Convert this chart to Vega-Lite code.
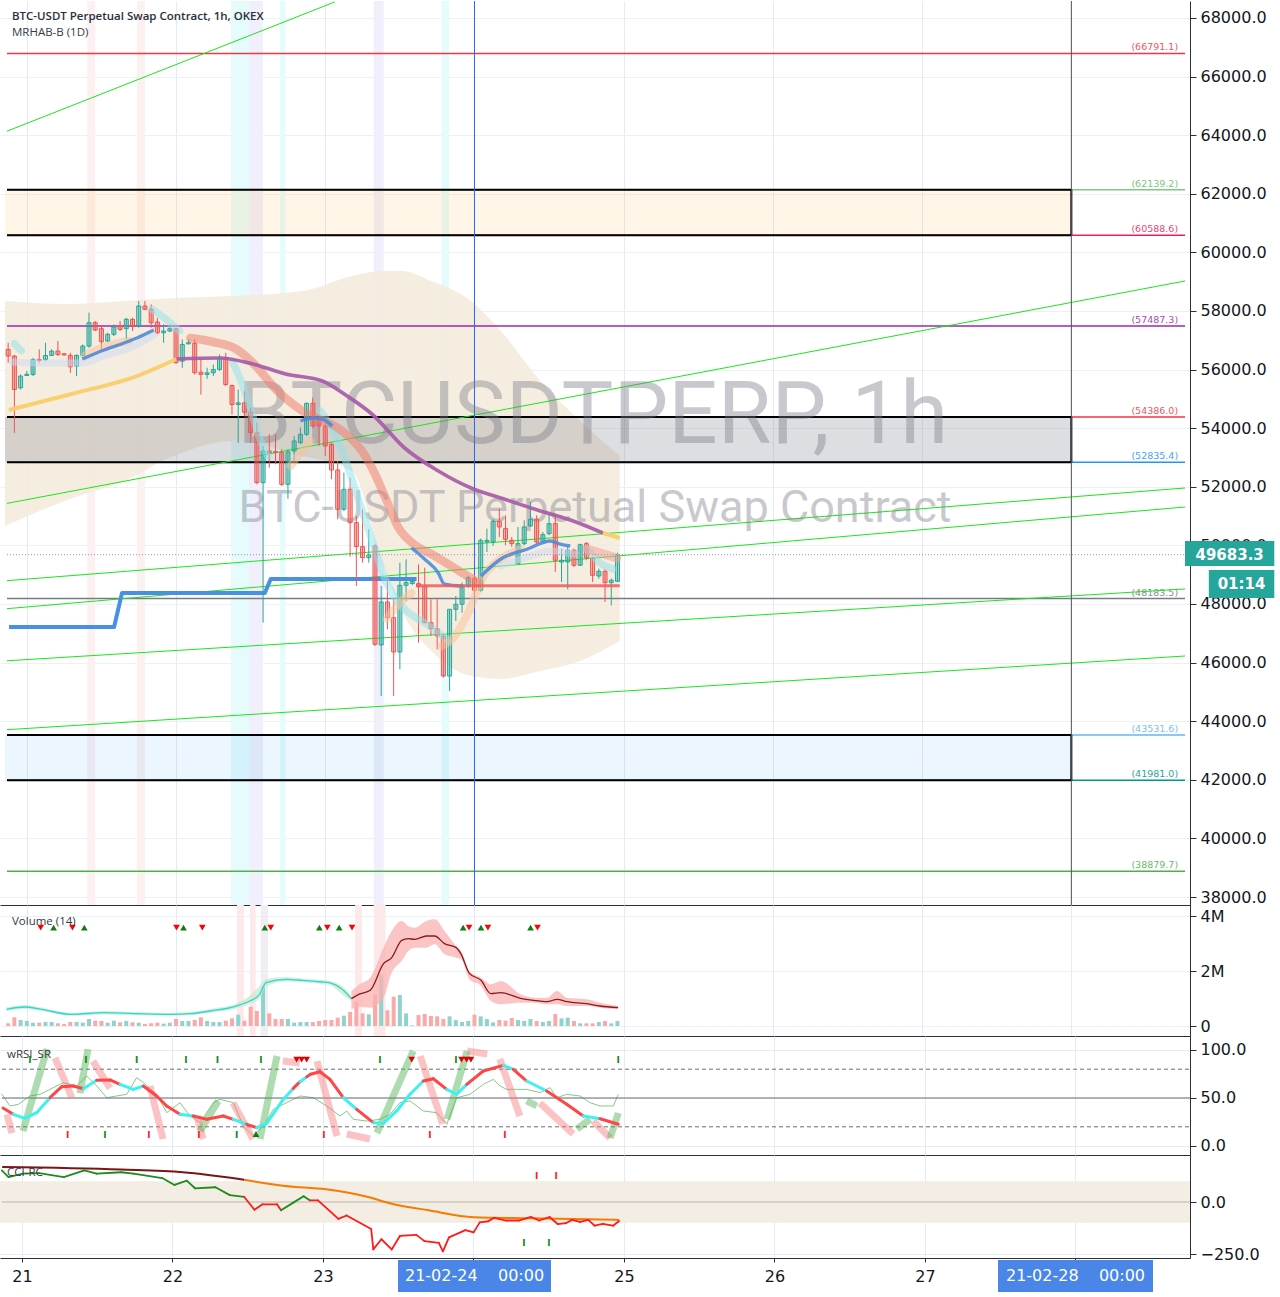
{
"$schema":"https://vega.github.io/schema/vega-lite/v6.json",
"background":"white",
"padding":0,
"autosize":{"type":"pad"},
"spacing":0,
"bounds":"flush",
"config":{"view":{"stroke":null},"axis":{"labelFont":"DejaVu Sans","labelFontSize":16,"labelColor":"#131722","title":null,"zindex":1}},
"datasets":{
"c":[
{"h":-3,"o":56689,"hi":56917,"lo":56233,"c":56461,"v":97000,"d":"dn"},
{"h":-2,"o":56461,"hi":56500,"lo":53839,"c":55321,"v":315000,"d":"dn"},
{"h":-1,"o":55378,"hi":55840,"lo":55320,"c":55777,"v":218000,"d":"up"},
{"h":0,"o":55800,"hi":55950,"lo":55780,"c":55840,"v":182000,"d":"up"},
{"h":1,"o":55834,"hi":56400,"lo":55777,"c":56347,"v":121000,"d":"up"},
{"h":2,"o":56347,"hi":56689,"lo":56233,"c":56310,"v":121000,"d":"dn"},
{"h":3,"o":56347,"hi":56917,"lo":56290,"c":56484,"v":145000,"d":"up"},
{"h":4,"o":56484,"hi":56690,"lo":56461,"c":56632,"v":145000,"d":"up"},
{"h":5,"o":56632,"hi":56974,"lo":56461,"c":56518,"v":97000,"d":"dn"},
{"h":6,"o":56540,"hi":56560,"lo":56480,"c":56500,"v":73000,"d":"dn"},
{"h":7,"o":56484,"hi":56575,"lo":55891,"c":56096,"v":145000,"d":"dn"},
{"h":8,"o":56120,"hi":56518,"lo":55777,"c":56484,"v":145000,"d":"up"},
{"h":9,"o":56484,"hi":56860,"lo":56461,"c":56803,"v":121000,"d":"up"},
{"h":10,"o":56803,"hi":57943,"lo":56746,"c":57601,"v":255000,"d":"up"},
{"h":11,"o":57601,"hi":57658,"lo":57316,"c":57350,"v":194000,"d":"dn"},
{"h":12,"o":57396,"hi":57487,"lo":56632,"c":56951,"v":182000,"d":"dn"},
{"h":13,"o":56974,"hi":57259,"lo":56940,"c":57202,"v":121000,"d":"up"},
{"h":14,"o":57202,"hi":57544,"lo":57145,"c":57453,"v":194000,"d":"up"},
{"h":15,"o":57487,"hi":57658,"lo":57316,"c":57373,"v":133000,"d":"dn"},
{"h":16,"o":57396,"hi":57772,"lo":57031,"c":57715,"v":182000,"d":"up"},
{"h":17,"o":57715,"hi":57772,"lo":57316,"c":57487,"v":133000,"d":"dn"},
{"h":18,"o":57487,"hi":58342,"lo":57430,"c":58171,"v":121000,"d":"up"},
{"h":19,"o":58171,"hi":58342,"lo":58034,"c":58057,"v":73000,"d":"dn"},
{"h":20,"o":58057,"hi":58228,"lo":57430,"c":57601,"v":97000,"d":"dn"},
{"h":21,"o":57624,"hi":57772,"lo":57202,"c":57259,"v":121000,"d":"dn"},
{"h":22,"o":57259,"hi":57544,"lo":56917,"c":57316,"v":85000,"d":"up"},
{"h":23,"o":57316,"hi":57544,"lo":57282,"c":57396,"v":121000,"d":"up"},
{"h":24,"o":57396,"hi":57430,"lo":56210,"c":56233,"v":255000,"d":"dn"},
{"h":25,"o":56290,"hi":57031,"lo":56062,"c":56860,"v":182000,"d":"up"},
{"h":26,"o":56880,"hi":57031,"lo":56860,"c":56917,"v":182000,"d":"up"},
{"h":27,"o":56894,"hi":57031,"lo":55834,"c":55891,"v":218000,"d":"dn"},
{"h":28,"o":55914,"hi":56347,"lo":55150,"c":55834,"v":315000,"d":"dn"},
{"h":29,"o":55834,"hi":56062,"lo":55686,"c":55891,"v":182000,"d":"up"},
{"h":30,"o":55891,"hi":56176,"lo":55777,"c":56005,"v":145000,"d":"up"},
{"h":31,"o":56005,"hi":56518,"lo":55948,"c":56404,"v":145000,"d":"up"},
{"h":32,"o":56404,"hi":56575,"lo":55435,"c":55492,"v":194000,"d":"dn"},
{"h":33,"o":55458,"hi":55492,"lo":54466,"c":54808,"v":279000,"d":"dn"},
{"h":34,"o":54808,"hi":55321,"lo":53497,"c":54865,"v":412000,"d":"up"},
{"h":35,"o":54865,"hi":55264,"lo":54409,"c":54546,"v":194000,"d":"dn"},
{"h":36,"o":54554,"hi":54702,"lo":53507,"c":53848,"v":703000,"d":"dn"},
{"h":37,"o":53848,"hi":54190,"lo":52085,"c":52142,"v":545000,"d":"dn"},
{"h":38,"o":52142,"hi":53393,"lo":47364,"c":53223,"v":1455000,"d":"up"},
{"h":39,"o":53223,"hi":53791,"lo":52654,"c":53166,"v":461000,"d":"dn"},
{"h":40,"o":53200,"hi":53791,"lo":52768,"c":53166,"v":255000,"d":"dn"},
{"h":41,"o":53166,"hi":53280,"lo":52028,"c":52085,"v":255000,"d":"dn"},
{"h":42,"o":52085,"hi":53280,"lo":51596,"c":53189,"v":255000,"d":"up"},
{"h":43,"o":53223,"hi":53735,"lo":52881,"c":53564,"v":121000,"d":"up"},
{"h":44,"o":53507,"hi":54019,"lo":53450,"c":53791,"v":145000,"d":"up"},
{"h":45,"o":53791,"hi":54872,"lo":53735,"c":54850,"v":145000,"d":"up"},
{"h":46,"o":54850,"hi":55043,"lo":54019,"c":54076,"v":145000,"d":"dn"},
{"h":47,"o":54303,"hi":54417,"lo":53393,"c":54076,"v":182000,"d":"dn"},
{"h":48,"o":54076,"hi":54190,"lo":53052,"c":53393,"v":218000,"d":"dn"},
{"h":49,"o":53450,"hi":53507,"lo":52256,"c":52574,"v":218000,"d":"dn"},
{"h":50,"o":52574,"hi":52881,"lo":50891,"c":51232,"v":303000,"d":"dn"},
{"h":51,"o":51232,"hi":52483,"lo":51175,"c":51914,"v":376000,"d":"up"},
{"h":52,"o":51914,"hi":52313,"lo":49616,"c":50777,"v":509000,"d":"dn"},
{"h":53,"o":50777,"hi":51004,"lo":48615,"c":49958,"v":885000,"d":"dn"},
{"h":54,"o":49958,"hi":51232,"lo":49412,"c":49582,"v":461000,"d":"dn"},
{"h":55,"o":49582,"hi":50549,"lo":49412,"c":49673,"v":424000,"d":"up"},
{"h":56,"o":49980,"hi":50037,"lo":46567,"c":46624,"v":1152000,"d":"dn"},
{"h":57,"o":46601,"hi":48615,"lo":44861,"c":48069,"v":1855000,"d":"up"},
{"h":58,"o":48069,"hi":48899,"lo":47136,"c":47534,"v":570000,"d":"dn"},
{"h":59,"o":47534,"hi":48217,"lo":44861,"c":46362,"v":1067000,"d":"dn"},
{"h":60,"o":46362,"hi":49412,"lo":45771,"c":48638,"v":1127000,"d":"up"},
{"h":61,"o":48638,"hi":49525,"lo":48103,"c":48729,"v":461000,"d":"up"},
{"h":62,"o":48700,"hi":48820,"lo":48650,"c":48770,"v":24000,"d":"up"},
{"h":63,"o":48695,"hi":49355,"lo":46681,"c":48592,"v":400000,"d":"dn"},
{"h":64,"o":48592,"hi":49241,"lo":47341,"c":47364,"v":436000,"d":"dn"},
{"h":65,"o":47364,"hi":48160,"lo":46908,"c":47159,"v":364000,"d":"dn"},
{"h":66,"o":47159,"hi":48160,"lo":46453,"c":46908,"v":352000,"d":"dn"},
{"h":67,"o":46908,"hi":46965,"lo":45487,"c":45543,"v":255000,"d":"dn"},
{"h":68,"o":45543,"hi":47830,"lo":45031,"c":47819,"v":352000,"d":"up"},
{"h":69,"o":47819,"hi":48274,"lo":47421,"c":47990,"v":218000,"d":"up"},
{"h":70,"o":47990,"hi":48729,"lo":47705,"c":48615,"v":145000,"d":"up"},
{"h":71,"o":48615,"hi":48957,"lo":48558,"c":48900,"v":182000,"d":"up"},
{"h":72,"o":48866,"hi":48979,"lo":48240,"c":48467,"v":412000,"d":"dn"},
{"h":73,"o":48467,"hi":50231,"lo":48411,"c":50174,"v":352000,"d":"up"},
{"h":74,"o":50117,"hi":50572,"lo":49776,"c":50174,"v":255000,"d":"up"},
{"h":75,"o":50117,"hi":50891,"lo":49981,"c":50822,"v":133000,"d":"up"},
{"h":76,"o":50822,"hi":51255,"lo":50288,"c":50629,"v":218000,"d":"dn"},
{"h":77,"o":50572,"hi":51027,"lo":50003,"c":50208,"v":194000,"d":"dn"},
{"h":78,"o":50174,"hi":50288,"lo":49947,"c":50060,"v":291000,"d":"dn"},
{"h":79,"o":49378,"hi":50629,"lo":49378,"c":50060,"v":218000,"d":"up"},
{"h":80,"o":50060,"hi":50857,"lo":50003,"c":50629,"v":182000,"d":"up"},
{"h":81,"o":50663,"hi":51482,"lo":50629,"c":50891,"v":255000,"d":"up"},
{"h":82,"o":50891,"hi":51027,"lo":50060,"c":50117,"v":182000,"d":"dn"},
{"h":83,"o":50140,"hi":50458,"lo":50094,"c":50367,"v":145000,"d":"up"},
{"h":84,"o":50401,"hi":51084,"lo":50345,"c":50743,"v":182000,"d":"up"},
{"h":85,"o":50743,"hi":51084,"lo":49093,"c":49491,"v":436000,"d":"dn"},
{"h":86,"o":49434,"hi":49890,"lo":48752,"c":49491,"v":279000,"d":"up"},
{"h":87,"o":49434,"hi":49947,"lo":48502,"c":49833,"v":303000,"d":"up"},
{"h":88,"o":49833,"hi":49890,"lo":49264,"c":49321,"v":182000,"d":"dn"},
{"h":89,"o":49321,"hi":50060,"lo":49298,"c":50026,"v":97000,"d":"up"},
{"h":90,"o":50060,"hi":50117,"lo":49491,"c":49571,"v":97000,"d":"dn"},
{"h":91,"o":49571,"hi":49605,"lo":48752,"c":48979,"v":97000,"d":"dn"},
{"h":92,"o":48957,"hi":49207,"lo":48866,"c":49116,"v":145000,"d":"up"},
{"h":93,"o":49116,"hi":49184,"lo":48069,"c":48729,"v":182000,"d":"dn"},
{"h":94,"o":48729,"hi":48866,"lo":47955,"c":48809,"v":97000,"d":"up"},
{"h":95,"o":48775,"hi":49753,"lo":48752,"c":49683,"v":182000,"d":"up"}
],
"vb":[
{"h":9.73,"h2":11.0,"k":"pk","p":"m"},{"h":17.7,"h2":19.0,"k":"pk","p":"m"},{"h":32.85,"h2":35.73,"k":"cy","p":"m"},{"h":35.73,"h2":37.96,"k":"lv","p":"m"},{"h":40.7,"h2":41.6,"k":"cy","p":"m"},{"h":55.8,"h2":57.4,"k":"lv","p":"m"},{"h":66.7,"h2":67.9,"k":"cy","p":"m"},
{"h":33.8,"h2":34.9,"k":"pk","p":"v"},{"h":35.9,"h2":36.8,"k":"pk","p":"v"},{"h":37.6,"h2":38.8,"k":"lv","p":"v"},{"h":52.8,"h2":53.9,"k":"pk","p":"v"},{"h":55.8,"h2":57.7,"k":"pk","p":"v"}
],
"cl":[
{"h":-3.509,"hi":58341,"lo":50662},{"h":6.06,"hi":58239,"lo":51516},{"h":15.63,"hi":58341,"lo":52198},{"h":23.6,"hi":58444,"lo":53051},{"h":33.17,"hi":58512,"lo":53563},{"h":44.34,"hi":58683,"lo":53051},{"h":52.31,"hi":59194,"lo":52539},{"h":57.1,"hi":59365,"lo":49467},{"h":60.29,"hi":59365,"lo":47761},{"h":65.07,"hi":59024,"lo":46396},{"h":71.45,"hi":58341,"lo":45543},{"h":76.24,"hi":57317,"lo":45440},{"h":82.62,"hi":55611,"lo":45713},{"h":89.0,"hi":54246,"lo":46054},{"h":95.37,"hi":53051,"lo":46737}
],
"lv":[
{"p":66791.1,"lab":"(66791.1)","k":"r","h0":-3.19,"h1":186.28},{"p":62139.2,"lab":"(62139.2)","k":"lg","h0":-3.19,"h1":186.28},{"p":60588.6,"lab":"(60588.6)","k":"cr","h0":-3.19,"h1":186.28},{"p":57487.3,"lab":"(57487.3)","k":"pu","h0":-3.19,"h1":186.28},{"p":54386.0,"lab":"(54386.0)","k":"r","h0":-3.19,"h1":186.28},{"p":52835.4,"lab":"(52835.4)","k":"b","h0":-3.19,"h1":186.28},{"p":48183.5,"lab":"(48183.5)","k":"g","h0":-3.19,"h1":186.28},{"p":43531.6,"lab":"(43531.6)","k":"lb","h0":-3.19,"h1":186.28},{"p":41981.0,"lab":"(41981.0)","k":"t","h0":-3.19,"h1":186.28},{"p":38879.7,"lab":"(38879.7)","k":"gr","h0":-3.19,"h1":186.28}
],
"bx":[
{"h":-3.509,"hb":-3.19,"h2":168,"p1":60588.6,"p2":62139.2,"k":"o"},{"h":-3.509,"hb":-3.19,"h2":168,"p1":52835.4,"p2":54386.0,"k":"g"},{"h":-3.509,"hb":-3.19,"h2":168,"p1":41981.0,"p2":43531.6,"k":"b"}
],
"tl":[
{"h":-3.19,"p":64136,"k":"A"},{"h":49.52,"p":68546,"k":"A"},
{"h":-3.19,"p":51434,"k":"B"},{"h":186.28,"p":59024,"k":"B"},
{"h":-3.19,"p":48796,"k":"C"},{"h":186.28,"p":51959,"k":"C"},
{"h":-3.19,"p":47840,"k":"D"},{"h":186.28,"p":51310,"k":"D"},
{"h":-3.19,"p":46062,"k":"E"},{"h":186.28,"p":48512,"k":"E"},
{"h":-3.19,"p":43710,"k":"F"},{"h":186.28,"p":46225,"k":"F"}
],
"vr":[{"h":72,"k":"b"},{"h":168,"k":"g"}],
"cp":[{"h0":-3.19,"h1":186.28,"p":49683.3}],
"wm":[{"h":91.0,"p":53495,"t":"BTCUSDTPERP, 1h","k":"a"},{"h":91.4,"p":50798,"t":"BTC-USDT Perpetual Swap Contract","k":"b"}],
"st":[{"h":-2.87,"p":47214},{"h":14.04,"p":47214},{"h":15.31,"p":48375},{"h":38.28,"p":48375},{"h":39.23,"p":48853},{"h":62.68,"p":48853}],
"bd":[
{"h":-2.31,"p":56260,"s":"lb1","k":"lb"},{"h":2.87,"p":56225,"s":"lb1","k":"lb"},{"h":8.93,"p":56225,"s":"lb1","k":"lb"},{"h":12.44,"p":56464,"s":"lb1","k":"lb"},{"h":17.7,"p":56840,"s":"lb1","k":"lb"},{"h":20.41,"p":57181,"s":"lb1","k":"lb"},
{"h":76.24,"p":49297,"s":"lb4","k":"lb"},{"h":80.54,"p":49604,"s":"lb4","k":"lb"},{"h":84.21,"p":49809,"s":"lb4","k":"lb"},{"h":88.2,"p":49707,"s":"lb4","k":"lb"},
{"h":-2.0,"p":56880,"s":"c1","k":"cy"},{"h":-0.9,"p":56650,"s":"c1","k":"cy"},
{"h":20.1,"p":58068,"s":"c2","k":"cy"},{"h":22.33,"p":57727,"s":"c2","k":"cy"},{"h":24.56,"p":57317,"s":"c2","k":"cy"},
{"h":33.17,"p":56225,"s":"c3","k":"cy"},{"h":34.77,"p":55440,"s":"c3","k":"cy"},{"h":36.36,"p":54416,"s":"c3","k":"cy"},{"h":37.64,"p":53563,"s":"c3","k":"cy"},{"h":38.76,"p":53051,"s":"c3","k":"cy"},
{"h":47.21,"p":54587,"s":"c4","k":"cy"},{"h":49.12,"p":53973,"s":"c4","k":"cy"},{"h":51.04,"p":53051,"s":"c4","k":"cy"},{"h":52.63,"p":52027,"s":"c4","k":"cy"},{"h":54.23,"p":51003,"s":"c4","k":"cy"},{"h":55.82,"p":49980,"s":"c4","k":"cy"},{"h":57.42,"p":48955,"s":"c4","k":"cy"},{"h":59.01,"p":48273,"s":"c4","k":"cy"},{"h":61.08,"p":47761,"s":"c4","k":"cy"},{"h":63.48,"p":47420,"s":"c4","k":"cy"},{"h":65.87,"p":47078,"s":"c4","k":"cy"},{"h":67.78,"p":46737,"s":"c4","k":"cy"},
{"h":90.11,"p":49877,"s":"c6","k":"cy"},{"h":92.19,"p":49399,"s":"c6","k":"cy"},{"h":94.26,"p":49194,"s":"c6","k":"cy"},
{"h":9.25,"p":56464,"s":"o1","k":"or"},{"h":11.64,"p":56703,"s":"o1","k":"or"},{"h":14.04,"p":56874,"s":"o1","k":"or"},{"h":16.43,"p":56976,"s":"o1","k":"or"},
{"h":42.42,"p":52710,"s":"o2","k":"or"},{"h":44.02,"p":53153,"s":"o2","k":"or"},{"h":45.61,"p":53563,"s":"o2","k":"or"},
{"h":57.89,"p":47488,"s":"o3","k":"or"},{"h":59.49,"p":47932,"s":"o3","k":"or"},{"h":61.88,"p":48375,"s":"o3","k":"or"},
{"h":66.67,"p":46567,"s":"o4","k":"or"},{"h":68.58,"p":46840,"s":"o4","k":"or"},{"h":70.97,"p":47693,"s":"o4","k":"or"},{"h":73.52,"p":48955,"s":"o4","k":"or"},{"h":76.24,"p":49536,"s":"o4","k":"or"},{"h":79.43,"p":49877,"s":"o4","k":"or"},
{"h":26.32,"p":57078,"s":"rd","k":"rd"},{"h":29.98,"p":56942,"s":"rd","k":"rd"},{"h":33.65,"p":56703,"s":"rd","k":"rd"},{"h":37.16,"p":56055,"s":"rd","k":"rd"},{"h":39.55,"p":55440,"s":"rd","k":"rd"},{"h":44.34,"p":54587,"s":"rd","k":"rd"},{"h":50.72,"p":53904,"s":"rd","k":"rd"},{"h":53.91,"p":53222,"s":"rd","k":"rd"},{"h":55.98,"p":52437,"s":"rd","k":"rd"},{"h":57.89,"p":51516,"s":"rd","k":"rd"},{"h":59.81,"p":50594,"s":"rd","k":"rd"},{"h":62.2,"p":50048,"s":"rd","k":"rd"},{"h":65.07,"p":49707,"s":"rd","k":"rd"},{"h":70.33,"p":49024,"s":"rd","k":"rd"},{"h":72.73,"p":48716,"s":"rd","k":"rd"},
{"h":90.11,"p":49877,"s":"sal","k":"sal"},{"h":94.9,"p":49570,"s":"sal","k":"sal"}
],
"ln":[
{"h":-2.87,"p":54620,"s":"y1","k":"may"},{"h":7.18,"p":55167,"s":"y1","k":"may"},{"h":17.7,"p":55781,"s":"y1","k":"may"},{"h":24.08,"p":56362,"s":"y1","k":"may"},
{"h":24.08,"p":56362,"s":"pu","k":"map"},{"h":31.1,"p":56396,"s":"pu","k":"map"},{"h":36.36,"p":56191,"s":"pu","k":"map"},{"h":41.63,"p":55850,"s":"pu","k":"map"},{"h":47.53,"p":55611,"s":"pu","k":"map"},{"h":51.52,"p":55099,"s":"pu","k":"map"},{"h":55.5,"p":54485,"s":"pu","k":"map"},{"h":60.77,"p":53324,"s":"pu","k":"map"},{"h":66.19,"p":52539,"s":"pu","k":"map"},{"h":71.45,"p":51959,"s":"pu","k":"map"},{"h":76.24,"p":51618,"s":"pu","k":"map"},{"h":82.62,"p":51174,"s":"pu","k":"map"},{"h":87.88,"p":50833,"s":"pu","k":"map"},{"h":92.66,"p":50423,"s":"pu","k":"map"},
{"h":92.66,"p":50423,"s":"y2","k":"may"},{"h":95.37,"p":50252,"s":"y2","k":"may"},
{"h":8.93,"p":56362,"s":"b1","k":"bl"},{"h":12.44,"p":56669,"s":"b1","k":"bl"},{"h":15.63,"p":56908,"s":"b1","k":"bl"},{"h":17.7,"p":57078,"s":"b1","k":"bl"},{"h":20.41,"p":57351,"s":"b1","k":"bl"},
{"h":44.02,"p":54246,"s":"b2","k":"bl"},{"h":45.93,"p":54348,"s":"b2","k":"bl"},{"h":47.53,"p":54314,"s":"b2","k":"bl"},{"h":49.12,"p":54075,"s":"b2","k":"bl"},
{"h":61.88,"p":49911,"s":"b3","k":"bl"},{"h":63.96,"p":49536,"s":"b3","k":"bl"},{"h":66.19,"p":49058,"s":"b3","k":"bl"},{"h":67.15,"p":48682,"s":"b3","k":"bl"},{"h":70.18,"p":48614,"s":"b3","k":"bl"},
{"h":73.05,"p":48955,"s":"b4","k":"bl"},{"h":76.24,"p":49536,"s":"b4","k":"bl"},{"h":80.54,"p":49877,"s":"b4","k":"bl"},{"h":84.21,"p":50150,"s":"b4","k":"bl"},{"h":85.8,"p":50047,"s":"b4","k":"bl"},{"h":87.4,"p":49979,"s":"b4","k":"bl"},
{"h":62.68,"p":48620,"s":"rt","k":"rt"},{"h":95.37,"p":48620,"s":"rt","k":"rt"}
],
"tx":[{"h":-2.39,"p":67915,"t":"BTC-USDT Perpetual Swap Contract, 1h, OKEX","k":"b"},{"h":-2.39,"p":67386,"t":"MRHAB-B (1D)","k":"n"}],
"pb":[{"h":186.28,"h2":200.64,"lo":49297,"hi":50150,"t":"49683.3","hc":193.46,"pc":49683.3},{"h":190.11,"h2":200.64,"lo":48205,"hi":49160,"t":"01:14","hc":195.37,"pc":48682}],
"vm":[
{"h":-3.27,"v":606000,"lo":550000,"hi":680000,"s":"a"},{"h":-0.32,"v":691000,"lo":620000,"hi":760000,"s":"a"},{"h":2.34,"v":606000,"lo":545000,"hi":670000,"s":"a"},{"h":7.13,"v":424000,"lo":370000,"hi":480000,"s":"a"},{"h":12.44,"v":485000,"lo":420000,"hi":550000,"s":"a"},{"h":17.7,"v":448000,"lo":390000,"hi":510000,"s":"a"},{"h":23.08,"v":424000,"lo":370000,"hi":480000,"s":"a"},{"h":26.27,"v":448000,"lo":390000,"hi":510000,"s":"a"},{"h":29.46,"v":545000,"lo":480000,"hi":620000,"s":"a"},{"h":33.7,"v":727000,"lo":640000,"hi":820000,"s":"a"},{"h":35.84,"v":909000,"lo":800000,"hi":1100000,"s":"a"},{"h":37.43,"v":1152000,"lo":1000000,"hi":1450000,"s":"a"},{"h":38.48,"v":1576000,"lo":1450000,"hi":1700000,"s":"a"},{"h":41.67,"v":1697000,"lo":1620000,"hi":1780000,"s":"a"},{"h":44.34,"v":1661000,"lo":1590000,"hi":1730000,"s":"a"},{"h":47.53,"v":1600000,"lo":1530000,"hi":1670000,"s":"a"},{"h":48.6,"v":1576000,"lo":1500000,"hi":1650000,"s":"a"},{"h":50.72,"v":1333000,"lo":1150000,"hi":1450000,"s":"a"},{"h":52.2,"v":994000,"lo":900000,"hi":1100000,"s":"a"},
{"h":52.2,"v":994000,"lo":606000,"hi":1273000,"s":"b"},{"h":53.38,"v":1152000,"lo":700000,"hi":1500000,"s":"b"},{"h":55.23,"v":1297000,"lo":667000,"hi":1758000,"s":"b"},{"h":57.37,"v":2267000,"lo":1030000,"hi":2849000,"s":"b"},{"h":58.69,"v":2485000,"lo":1939000,"hi":3455000,"s":"b"},{"h":60.29,"v":3115000,"lo":2364000,"hi":3818000,"s":"b"},{"h":61.36,"v":3176000,"lo":2727000,"hi":3636000,"s":"b"},{"h":62.41,"v":3152000,"lo":2849000,"hi":3576000,"s":"b"},{"h":64.27,"v":3273000,"lo":2849000,"hi":3818000,"s":"b"},{"h":65.6,"v":3273000,"lo":2970000,"hi":3879000,"s":"b"},{"h":67.19,"v":2994000,"lo":2606000,"hi":3455000,"s":"b"},{"h":69.06,"v":2849000,"lo":2485000,"hi":2909000,"s":"b"},{"h":69.86,"v":2606000,"lo":2424000,"hi":2727000,"s":"b"},{"h":71.18,"v":1915000,"lo":1697000,"hi":2000000,"s":"b"},{"h":73.05,"v":1661000,"lo":1455000,"hi":1758000,"s":"b"},{"h":74.64,"v":1176000,"lo":909000,"hi":1515000,"s":"b"},{"h":76.24,"v":1212000,"lo":788000,"hi":1636000,"s":"b"},{"h":79.43,"v":1006000,"lo":848000,"hi":1152000,"s":"b"},{"h":81.55,"v":933000,"lo":848000,"hi":1030000,"s":"b"},{"h":83.68,"v":885000,"lo":788000,"hi":1030000,"s":"b"},{"h":85.28,"v":970000,"lo":788000,"hi":1273000,"s":"b"},{"h":86.88,"v":885000,"lo":727000,"hi":1030000,"s":"b"},{"h":90.06,"v":812000,"lo":727000,"hi":970000,"s":"b"},{"h":92.19,"v":727000,"lo":667000,"hi":848000,"s":"b"},{"h":95.1,"v":667000,"lo":606000,"hi":727000,"s":"b"}
],
"vt":[
{"h":2.23,"k":"dn"},{"h":4.31,"k":"up"},{"h":7.34,"k":"dn"},{"h":9.25,"k":"up"},{"h":24.08,"k":"dn"},{"h":25.2,"k":"up"},{"h":28.23,"k":"dn"},{"h":38.28,"k":"up"},{"h":39.23,"k":"dn"},{"h":47.05,"k":"up"},{"h":48.33,"k":"dn"},{"h":50.24,"k":"up"},{"h":52.31,"k":"dn"},{"h":70.18,"k":"up"},{"h":71.13,"k":"dn"},{"h":73.05,"k":"up"},{"h":74.16,"k":"dn"},{"h":81.02,"k":"up"},{"h":82.14,"k":"dn"}
],
"rl":[{"v":80,"k":"d","h0":-3.19,"h1":186.28},{"v":20,"k":"d","h0":-3.19,"h1":186.28},{"v":50,"k":"s","h0":-3.19,"h1":186.28}],
"rib":[
{"h":-2.39,"v":33,"h2":-1.6,"v2":13.5,"k":"p"},{"h":0.16,"v":15.6,"h2":3.99,"v2":101,"k":"g"},{"h":5.26,"v":91.7,"h2":7.97,"v2":50,"k":"p"},{"h":9.25,"v":55.2,"h2":10.53,"v2":101,"k":"g"},{"h":11.32,"v":88.5,"h2":14.04,"v2":60.4,"k":"p"},{"h":20.41,"v":62.5,"h2":22.49,"v2":7.3,"k":"p"},{"h":27.9,"v":31,"h2":28.9,"v2":7.3,"k":"p"},{"h":28.4,"v":15.6,"h2":31.3,"v2":46.9,"k":"g"},{"h":33.65,"v":44.8,"h2":36.84,"v2":7.3,"k":"p"},{"h":37.96,"v":7.3,"h2":40.67,"v2":93.75,"k":"g"},{"h":41.6,"v":88.5,"h2":44.3,"v2":86.5,"k":"p"},{"h":47.05,"v":88.5,"h2":50.24,"v2":10.4,"k":"p"},{"h":51.8,"v":12.5,"h2":55.5,"v2":7.3,"k":"p"},{"h":56.6,"v":13.5,"h2":62.4,"v2":99,"k":"g"},{"h":63.5,"v":93.75,"h2":67.1,"v2":23,"k":"p"},{"h":67.8,"v":28,"h2":71.0,"v2":99,"k":"g"},{"h":71.0,"v":99,"h2":74.2,"v2":95.8,"k":"p"},{"h":76.2,"v":90.6,"h2":79.4,"v2":31.25,"k":"p"},{"h":80.5,"v":46.9,"h2":82.1,"v2":41.7,"k":"g"},{"h":82.6,"v":44.8,"h2":87.9,"v2":12.5,"k":"p"},{"h":88.5,"v":17.7,"h2":90.6,"v2":28,"k":"g"},{"h":91.1,"v":26,"h2":93.8,"v2":8.3,"k":"p"},{"h":93.8,"v":8.3,"h2":95.1,"v2":34.4,"k":"g"}
],
"rg":[
{"h":-3.27,"v":54.5},{"h":-1.91,"v":41.7},{"h":-0.58,"v":43.4},{"h":1.28,"v":52.1},{"h":2.87,"v":53.8},{"h":4.47,"v":59.0},{"h":6.59,"v":66.0},{"h":8.72,"v":62.5},{"h":10.32,"v":72.9},{"h":11.91,"v":62.5},{"h":13.51,"v":50.3},{"h":15.1,"v":52.1},{"h":16.7,"v":53.8},{"h":18.29,"v":71.2},{"h":19.35,"v":66.0},{"h":21.48,"v":53.8},{"h":23.08,"v":34.7},{"h":25.2,"v":45.1},{"h":26.79,"v":31.2},{"h":28.39,"v":24.3},{"h":30.51,"v":45.1},{"h":31.58,"v":48.6},{"h":33.7,"v":45.1},{"h":35.29,"v":20.8},{"h":36.89,"v":10.4},{"h":38.48,"v":20.8},{"h":40.08,"v":38.2},{"h":42.22,"v":45.1},{"h":44.34,"v":52.1},{"h":46.46,"v":50.3},{"h":48.6,"v":41.7},{"h":50.72,"v":31.2},{"h":51.79,"v":36.5},{"h":52.84,"v":27.8},{"h":54.98,"v":26.0},{"h":57.1,"v":27.8},{"h":58.69,"v":33.0},{"h":60.29,"v":45.1},{"h":61.88,"v":46.9},{"h":64.0,"v":36.5},{"h":66.14,"v":34.7},{"h":67.74,"v":22.6},{"h":69.33,"v":50.3},{"h":71.45,"v":53.8},{"h":73.57,"v":64.2},{"h":75.17,"v":69.4},{"h":76.24,"v":62.5},{"h":77.3,"v":59.0},{"h":80.49,"v":59.0},{"h":82.62,"v":55.6},{"h":84.21,"v":60.8},{"h":85.28,"v":50.3},{"h":86.87,"v":53.8},{"h":89.0,"v":52.1},{"h":90.59,"v":45.1},{"h":92.19,"v":41.7},{"h":94.31,"v":41.7},{"h":95.1,"v":53.8}
],
"rs":[
{"h":-3.03,"v":39.5,"c":"r"},{"h":-1.39,"v":33.0,"c":"c"},{"h":0.48,"v":28.8,"c":"c"},{"h":2.34,"v":34.7,"c":"c"},{"h":4.47,"v":50.3,"c":"r"},{"h":6.33,"v":61.8,"c":"r"},{"h":8.18,"v":62.5,"c":"r"},{"h":9.78,"v":59.7,"c":"c"},{"h":11.91,"v":68.4,"c":"r"},{"h":14.04,"v":68.75,"c":"r"},{"h":15.63,"v":64.2,"c":"c"},{"h":17.75,"v":59.0,"c":"c"},{"h":19.35,"v":62.5,"c":"r"},{"h":21.48,"v":52.1,"c":"r"},{"h":23.08,"v":41.7,"c":"r"},{"h":25.2,"v":33.0,"c":"c"},{"h":27.32,"v":31.25,"c":"r"},{"h":29.46,"v":27.8,"c":"r"},{"h":32.1,"v":31.25,"c":"r"},{"h":33.7,"v":27.8,"c":"c"},{"h":35.84,"v":22.6,"c":"r"},{"h":37.43,"v":19.1,"c":"c"},{"h":39.03,"v":23.6,"c":"c"},{"h":41.67,"v":48.6,"c":"c"},{"h":43.27,"v":60,"c":"r"},{"h":44.34,"v":67,"c":"c"},{"h":45.41,"v":72,"c":"r"},{"h":46.0,"v":74.7,"c":"r"},{"h":47.53,"v":77.4,"c":"r"},{"h":49.12,"v":69.4,"c":"r"},{"h":51.24,"v":50.3,"c":"c"},{"h":53.38,"v":38.2,"c":"r"},{"h":56.03,"v":24.3,"c":"c"},{"h":57.62,"v":23.6,"c":"c"},{"h":59.76,"v":36.5,"c":"c"},{"h":61.88,"v":53.9,"c":"c"},{"h":64.0,"v":67.7,"c":"r"},{"h":65.6,"v":70.1,"c":"r"},{"h":67.74,"v":59.0,"c":"c"},{"h":69.33,"v":53.9,"c":"c"},{"h":70.93,"v":64.2,"c":"r"},{"h":73.57,"v":78.1,"c":"r"},{"h":76.76,"v":84.0,"c":"c"},{"h":78.36,"v":79.9,"c":"r"},{"h":80.49,"v":67.7,"c":"c"},{"h":83.68,"v":57.3,"c":"r"},{"h":86.87,"v":43.4,"c":"r"},{"h":89.52,"v":31.25,"c":"c"},{"h":92.19,"v":28.4,"c":"r"},{"h":95.1,"v":22.6,"c":"c"}
],
"rm":[
{"h":1.28,"v":89.6,"k":"g"},{"h":10.21,"v":89.6,"k":"g"},{"h":18.29,"v":89.6,"k":"g"},{"h":26.16,"v":89.6,"k":"g"},{"h":31.15,"v":89.6,"k":"g"},{"h":38.12,"v":89.6,"k":"g"},{"h":57.1,"v":89.6,"k":"g"},{"h":69.2,"v":89.6,"k":"g"},{"h":95.1,"v":89.6,"k":"g"},
{"h":7.29,"v":11.5,"k":"r"},{"h":13.24,"v":11.5,"k":"g"},{"h":20.26,"v":11.5,"k":"r"},{"h":28.23,"v":11.5,"k":"r"},{"h":34.24,"v":11.5,"k":"g"},{"h":48.17,"v":11.5,"k":"r"},{"h":65.07,"v":11.5,"k":"r"},{"h":77.03,"v":11.5,"k":"r"}
],
"rt":[
{"h":37.32,"v":12.5,"k":"up"},{"h":43.8,"v":90,"k":"dn"},{"h":44.6,"v":90,"k":"dn"},{"h":45.4,"v":90,"k":"dn"},{"h":62.15,"v":90,"k":"dn"},{"h":70.1,"v":90,"k":"dn"},{"h":70.9,"v":90,"k":"dn"},{"h":71.6,"v":90,"k":"dn"}
],
"cb":[{"h":-3.509,"h2":186.28,"lo":-100,"hi":100}],
"zr":[{"h0":-3.19,"h1":186.28,"v":0}],
"cs":[
{"h":-3.16,"v":168,"s":"dr"},{"h":15.82,"v":156,"s":"dr"},{"h":25.63,"v":143,"s":"dr"},{"h":35.42,"v":107,"s":"dr"},
{"h":35.42,"v":107,"s":"or"},{"h":41.96,"v":77,"s":"or"},{"h":48.48,"v":61,"s":"or"},{"h":55.02,"v":25,"s":"or"},{"h":58.96,"v":-8,"s":"or"},{"h":64.85,"v":-40,"s":"or"},{"h":72.03,"v":-73,"s":"or"},{"h":81.18,"v":-78,"s":"or"},{"h":95.23,"v":-86,"s":"or"}
],
"cf":[
{"h":-3.22,"v":152,"c":"g"},{"h":-2.15,"v":120,"c":"g"},{"h":0.13,"v":136,"c":"g"},{"h":2.74,"v":139,"c":"g"},{"h":6.67,"v":120,"c":"g"},{"h":9.94,"v":152,"c":"g"},{"h":11.9,"v":136,"c":"g"},{"h":15.82,"v":143,"c":"g"},{"h":17.78,"v":136,"c":"g"},{"h":22.36,"v":115,"c":"g"},{"h":24.32,"v":82,"c":"g"},{"h":26.28,"v":103,"c":"g"},{"h":27.59,"v":66,"c":"g"},{"h":30.86,"v":71,"c":"g"},{"h":33.14,"v":33,"c":"g"},{"h":35.42,"v":25,"c":"r"},{"h":37.07,"v":-37,"c":"r"},{"h":38.37,"v":-11,"c":"r"},{"h":40.67,"v":-11,"c":"r"},{"h":41.31,"v":-40,"c":"g"},{"h":43.27,"v":-3,"c":"g"},{"h":44.91,"v":28,"c":"g"},{"h":45.89,"v":8,"c":"r"},{"h":47.21,"v":8,"c":"r"},{"h":50.46,"v":-81,"c":"r"},{"h":51.77,"v":-65,"c":"r"},{"h":55.69,"v":-130,"c":"r"},{"h":56.03,"v":-228,"c":"r"},{"h":57.32,"v":-179,"c":"r"},{"h":58.96,"v":-228,"c":"r"},{"h":60.27,"v":-163,"c":"r"},{"h":62.89,"v":-158,"c":"r"},{"h":64.19,"v":-188,"c":"r"},{"h":66.48,"v":-196,"c":"r"},{"h":67.13,"v":-237,"c":"r"},{"h":68.1,"v":-170,"c":"r"},{"h":70.72,"v":-135,"c":"r"},{"h":72.03,"v":-146,"c":"r"},{"h":73.01,"v":-98,"c":"r"},{"h":74.32,"v":-93,"c":"r"},{"h":75.3,"v":-76,"c":"r"},{"h":77.26,"v":-89,"c":"r"},{"h":79.22,"v":-89,"c":"r"},{"h":81.18,"v":-72,"c":"r"},{"h":82.49,"v":-89,"c":"r"},{"h":84.13,"v":-72,"c":"r"},{"h":85.44,"v":-106,"c":"r"},{"h":86.73,"v":-102,"c":"r"},{"h":87.72,"v":-86,"c":"r"},{"h":89.03,"v":-96,"c":"r"},{"h":90.33,"v":-86,"c":"r"},{"h":91.31,"v":-114,"c":"r"},{"h":92.62,"v":-105,"c":"r"},{"h":94.26,"v":-114,"c":"r"},{"h":95.23,"v":-91,"c":"r"}
],
"cm":[{"h":82.1,"v":125,"k":"r"},{"h":85.2,"v":125,"k":"r"},{"h":80.06,"v":-197,"k":"g"},{"h":84.05,"v":-197,"k":"g"}],
"db":[{"h":59.97,"h2":84.37,"lo":-432.7,"hi":-278.8,"t":"21-02-24\u00a0\u00a0\u00a0\u00a000:00","hc":72.17,"vc":-355.8},{"h":155.66,"h2":180.38,"lo":-432.7,"hi":-278.8,"t":"21-02-28\u00a0\u00a0\u00a0\u00a000:00","hc":168.02,"vc":-355.8}],
"lbl":[{"h":-2.39,"vol":3673000,"rsi":91.7,"cci":125}],
"ax":[{"h":0,"p":50000,"v":0,"r":50,"q":0}]
},
"vconcat":[
{
"width":1190,"height":904,
"resolve":{"scale":{"color":"independent","strokeWidth":"independent","fill":"independent","stroke":"independent","opacity":"independent","size":"independent"}},
"layer":[
{"data":{"name":"ax"},"mark":{"type":"point","opacity":0},
 "encoding":{"x":{"field":"h","type":"quantitative","scale":{"domain":[-3.509,186.28],"nice":false,"zero":false},
   "axis":{"orient":"bottom","values":[0,24,48,72,96,120,144,168],"labels":false,"ticks":false,"domain":true,"domainColor":"#2a2e39","grid":true,"gridColor":"#e3ebf3","title":null}},
  "y":{"field":"p","type":"quantitative","scale":{"domain":[37727,68580],"nice":false,"zero":false},
   "axis":{"orient":"right","values":[38000,40000,42000,44000,46000,48000,50000,52000,54000,56000,58000,60000,62000,64000,66000,68000],"format":".1f","grid":true,"gridColor":"#edf1f7","tickSize":6,"tickColor":"#2a2e39","domainColor":"#2a2e39","labelPadding":4,"labelOverlap":false,"title":null}}}},
{"data":{"name":"vb"},"transform":[{"filter":"datum.p=='m'"}],"mark":{"type":"rect"},
 "encoding":{"x":{"field":"h","type":"quantitative"},"x2":{"field":"h2"},
 "color":{"field":"k","type":"nominal","scale":{"domain":["pk","cy","lv"],"range":["#fdf0f0","#e6fbfc","#f0effb"]},"legend":null}}},
{"data":{"name":"cl"},"mark":{"type":"area","color":"#f5eadc","opacity":0.85,"interpolate":"monotone"},
 "encoding":{"x":{"field":"h","type":"quantitative"},"y":{"field":"lo","type":"quantitative"},"y2":{"field":"hi"}}},
{"data":{"name":"lv"},"mark":{"type":"rule","strokeWidth":1.5},
 "encoding":{"x":{"field":"h0","type":"quantitative"},"x2":{"field":"h1"},"y":{"field":"p","type":"quantitative"},
  "color":{"field":"k","type":"nominal","scale":{"domain":["r","lg","cr","pu","b","g","lb","t","gr"],"range":["#f23645","#81c784","#e91e63","#9c27b0","#2196f3","#787b86","#64b5f6","#009688","#4caf50"]},"legend":null},
  "strokeWidth":{"field":"k","type":"nominal","scale":{"domain":["r","lg","cr","pu","b","g","lb","t","gr"],"range":[1.5,1.5,1.5,2,1.5,2,1.5,1.5,1.5]},"legend":null}}},
{"data":{"name":"bx"},"mark":{"type":"rect"},
 "encoding":{"x":{"field":"h","type":"quantitative"},"x2":{"field":"h2"},"y":{"field":"p1","type":"quantitative"},"y2":{"field":"p2"},
  "fill":{"field":"k","type":"nominal","scale":{"domain":["o","g","b"],"range":["rgba(255,152,0,0.09)","rgba(120,123,134,0.25)","rgba(33,150,243,0.09)"]},"legend":null}}},
{"data":{"name":"bx"},"mark":{"type":"rule","color":"#000000","strokeWidth":2},
 "encoding":{"x":{"field":"hb","type":"quantitative"},"x2":{"field":"h2"},"y":{"field":"p1","type":"quantitative"}}},
{"data":{"name":"bx"},"mark":{"type":"rule","color":"#000000","strokeWidth":2},
 "encoding":{"x":{"field":"hb","type":"quantitative"},"x2":{"field":"h2"},"y":{"field":"p2","type":"quantitative"}}},
{"data":{"name":"bx"},"mark":{"type":"rule","color":"#000000","strokeWidth":2},
 "encoding":{"x":{"field":"h2","type":"quantitative"},"y":{"field":"p1","type":"quantitative"},"y2":{"field":"p2"}}},
{"data":{"name":"lv"},"mark":{"type":"text","align":"right","baseline":"bottom","dy":-1,"font":"DejaVu Sans","fontSize":9.5,"opacity":0.85},
 "encoding":{"x":{"datum":185.17,"type":"quantitative"},"y":{"field":"p","type":"quantitative"},"text":{"field":"lab"},
  "color":{"field":"k","type":"nominal","scale":{"domain":["r","lg","cr","pu","b","g","lb","t","gr"],"range":["#f23645","#66bb6a","#e91e63","#9c27b0","#2196f3","#787b86","#64b5f6","#009688","#4caf50"]},"legend":null}}},
{"data":{"name":"tl"},"mark":{"type":"line","color":"#19e619","strokeJoin":"round"},
 "encoding":{"x":{"field":"h","type":"quantitative"},"y":{"field":"p","type":"quantitative"},"detail":{"field":"k"},
  "strokeWidth":{"field":"k","type":"nominal","scale":{"domain":["A","B","C","D","E","F"],"range":[1,1,1,1,2,1]},"legend":null}}},
{"data":{"name":"vr"},"mark":{"type":"rule","strokeWidth":1},
 "encoding":{"x":{"field":"h","type":"quantitative"},
  "color":{"field":"k","type":"nominal","scale":{"domain":["b","g"],"range":["#2962ff","#50535e"]},"legend":null}}},
{"data":{"name":"wm"},"mark":{"type":"text","font":"Roboto","align":"center","baseline":"alphabetic","color":"#787b86","opacity":0.4},
 "encoding":{"x":{"field":"h","type":"quantitative"},"y":{"field":"p","type":"quantitative"},"text":{"field":"t"},
  "size":{"field":"k","type":"nominal","scale":{"domain":["a","b"],"range":[87,45]},"legend":null}}},
{"data":{"name":"st"},"mark":{"type":"line","color":"#4a90e2","strokeWidth":4,"strokeJoin":"round"},
 "encoding":{"x":{"field":"h","type":"quantitative"},"y":{"field":"p","type":"quantitative"}}},
{"data":{"name":"c"},"mark":{"type":"rule","strokeWidth":1},
 "encoding":{"x":{"field":"h","type":"quantitative"},"y":{"field":"lo","type":"quantitative"},"y2":{"field":"hi"},
  "color":{"field":"d","type":"nominal","scale":{"domain":["up","dn"],"range":["#26a69a","#ef5350"]},"legend":null}}},
{"data":{"name":"c"},"mark":{"type":"bar","size":4,"fillOpacity":0.35,"strokeWidth":1},
 "encoding":{"x":{"field":"h","type":"quantitative"},"y":{"field":"o","type":"quantitative"},"y2":{"field":"c"},
  "fill":{"field":"d","type":"nominal","scale":{"domain":["up","dn"],"range":["#26a69a","#ef5350"]},"legend":null},
  "stroke":{"field":"d","type":"nominal","scale":{"domain":["up","dn"],"range":["#26a69a","#ef5350"]},"legend":null}}},
{"data":{"name":"bd"},"mark":{"type":"line","interpolate":"monotone","strokeCap":"round","strokeJoin":"round"},
 "encoding":{"x":{"field":"h","type":"quantitative"},"y":{"field":"p","type":"quantitative"},"detail":{"field":"s"},
  "color":{"field":"k","type":"nominal","scale":{"domain":["lb","cy","or","rd","sal"],"range":["#c9dcf4","#8ee2ea","#f8c298","#f07c6c","#f4a199"]},"legend":null},
  "strokeWidth":{"field":"k","type":"nominal","scale":{"domain":["lb","cy","or","rd","sal"],"range":[7,9,10,13,5]},"legend":null},
  "opacity":{"field":"k","type":"nominal","scale":{"domain":["lb","cy","or","rd","sal"],"range":[0.5,0.55,0.55,0.6,0.7]},"legend":null}}},
{"data":{"name":"ln"},"mark":{"type":"line","interpolate":"monotone","strokeCap":"butt","strokeJoin":"round"},
 "encoding":{"x":{"field":"h","type":"quantitative"},"y":{"field":"p","type":"quantitative"},"detail":{"field":"s"},
  "color":{"field":"k","type":"nominal","scale":{"domain":["may","map","bl","rt"],"range":["#f8cf6a","#a65ca8","#4a89dc","#f05a5a"]},"legend":null},
  "strokeWidth":{"field":"k","type":"nominal","scale":{"domain":["may","map","bl","rt"],"range":[4,3,4,1.5]},"legend":null},
  "opacity":{"field":"k","type":"nominal","scale":{"domain":["may","map","bl","rt"],"range":[0.95,0.85,1,1]},"legend":null}}},
{"data":{"name":"cp"},"mark":{"type":"rule","color":"#9598a1","strokeDash":[1,2],"strokeWidth":1},
 "encoding":{"x":{"field":"h0","type":"quantitative"},"x2":{"field":"h1"},"y":{"field":"p","type":"quantitative"}}},
{"data":{"name":"tx"},"transform":[{"filter":"datum.k=='b'"}],"mark":{"type":"text","align":"left","baseline":"alphabetic","font":"Open Sans","fontSize":11.5,"fontWeight":600,"color":"#2a2e39"},
 "encoding":{"x":{"field":"h","type":"quantitative"},"y":{"field":"p","type":"quantitative"},"text":{"field":"t"}}},
{"data":{"name":"tx"},"transform":[{"filter":"datum.k=='n'"}],"mark":{"type":"text","align":"left","baseline":"alphabetic","font":"Open Sans","fontSize":11.5,"color":"#363a45"},
 "encoding":{"x":{"field":"h","type":"quantitative"},"y":{"field":"p","type":"quantitative"},"text":{"field":"t"}}},
{"data":{"name":"pb"},"mark":{"type":"rect","color":"#26a69a"},
 "encoding":{"x":{"field":"h","type":"quantitative"},"x2":{"field":"h2"},"y":{"field":"lo","type":"quantitative"},"y2":{"field":"hi"}}},
{"data":{"name":"pb"},"mark":{"type":"text","color":"white","font":"DejaVu Sans","fontWeight":"bold","fontSize":15,"align":"center","baseline":"middle"},
 "encoding":{"x":{"field":"hc","type":"quantitative"},"y":{"field":"pc","type":"quantitative"},"text":{"field":"t"}}}
]
},
{
"width":1190,"height":131,
"resolve":{"scale":{"color":"independent","shape":"independent"}},
"layer":[
{"data":{"name":"ax"},"mark":{"type":"point","opacity":0},
 "encoding":{"x":{"field":"h","type":"quantitative","scale":{"domain":[-3.509,186.28],"nice":false,"zero":false},
   "axis":{"orient":"bottom","values":[0,24,48,72,96,120,144,168],"labels":false,"ticks":false,"domain":true,"domainColor":"#2a2e39","grid":true,"gridColor":"#e3ebf3","title":null}},
  "y":{"field":"v","type":"quantitative","scale":{"domain":[-363636,4400000],"nice":false,"zero":false},
   "axis":{"orient":"right","values":[0,2000000,4000000],"labelExpr":"datum.value==0?'0':(datum.value/1000000)+'M'","grid":true,"gridColor":"#edf1f7","tickSize":6,"tickColor":"#2a2e39","domainColor":"#2a2e39","labelPadding":4,"title":null}}}},
{"data":{"name":"vb"},"transform":[{"filter":"datum.p=='v'"}],"mark":{"type":"rect"},
 "encoding":{"x":{"field":"h","type":"quantitative"},"x2":{"field":"h2"},
 "color":{"field":"k","type":"nominal","scale":{"domain":["pk","lv"],"range":["#fde9e9","#f1eef3"]},"legend":null}}},
{"data":{"name":"c"},"mark":{"type":"bar","size":4},
 "encoding":{"x":{"field":"h","type":"quantitative"},"y":{"field":"v","type":"quantitative"},"y2":{"datum":0},
  "color":{"field":"d","type":"nominal","scale":{"domain":["up","dn"],"range":["#92d2cc","#f8aaa8"]},"legend":null}}},
{"data":{"name":"vm"},"mark":{"type":"area","interpolate":"monotone","opacity":0.75},
 "encoding":{"x":{"field":"h","type":"quantitative"},"y":{"field":"lo","type":"quantitative"},"y2":{"field":"hi"},"detail":{"field":"s"},
  "color":{"field":"s","type":"nominal","scale":{"domain":["a","b"],"range":["#c9e8cf","#fbb1b1"]},"legend":null}}},
{"data":{"name":"vm"},"mark":{"type":"line","interpolate":"monotone","strokeWidth":1.3,"strokeJoin":"round"},
 "encoding":{"x":{"field":"h","type":"quantitative"},"y":{"field":"v","type":"quantitative"},"detail":{"field":"s"},
  "color":{"field":"s","type":"nominal","scale":{"domain":["a","b"],"range":["#2ad9d0","#8b1a1a"]},"legend":null}}},
{"data":{"name":"vt"},"mark":{"type":"point","filled":true,"size":45,"opacity":1},
 "encoding":{"x":{"field":"h","type":"quantitative"},"y":{"datum":3575000,"type":"quantitative"},
  "shape":{"field":"k","type":"nominal","scale":{"domain":["up","dn"],"range":["triangle-up","triangle-down"]},"legend":null},
  "color":{"field":"k","type":"nominal","scale":{"domain":["up","dn"],"range":["#0f7d0f","#ff0000"]},"legend":null}}},
{"data":{"name":"lbl"},"mark":{"type":"text","align":"left","baseline":"alphabetic","font":"Open Sans","fontSize":11.5,"color":"#363a45","text":"Volume (14)"},
 "encoding":{"x":{"field":"h","type":"quantitative"},"y":{"field":"vol","type":"quantitative"}}}
]
},
{
"width":1190,"height":119,
"resolve":{"scale":{"color":"independent","shape":"independent","strokeDash":"independent"}},
"layer":[
{"data":{"name":"ax"},"mark":{"type":"point","opacity":0},
 "encoding":{"x":{"field":"h","type":"quantitative","scale":{"domain":[-3.509,186.28],"nice":false,"zero":false},
   "axis":{"orient":"bottom","values":[0,24,48,72,96,120,144,168],"labels":false,"ticks":false,"domain":true,"domainColor":"#2a2e39","grid":true,"gridColor":"#e3ebf3","title":null}},
  "y":{"field":"r","type":"quantitative","scale":{"domain":[-9.375,114.58],"nice":false,"zero":false},
   "axis":{"orient":"right","values":[0,50,100],"format":".1f","grid":true,"gridColor":"#e6ecf3","tickSize":6,"tickColor":"#2a2e39","domainColor":"#2a2e39","labelPadding":4,"title":null}}}},
{"data":{"name":"rg"},"mark":{"type":"line","color":"#86c986","strokeWidth":1,"strokeJoin":"round"},
 "encoding":{"x":{"field":"h","type":"quantitative"},"y":{"field":"v","type":"quantitative"}}},
{"data":{"name":"rl"},"mark":{"type":"rule","color":"#6a6d78","strokeWidth":1},
 "encoding":{"x":{"field":"h0","type":"quantitative"},"x2":{"field":"h1"},"y":{"field":"v","type":"quantitative"},
  "strokeDash":{"field":"k","type":"nominal","scale":{"domain":["d","s"],"range":[[4,3],[1,0]]},"legend":null}}},
{"data":{"name":"rib"},"mark":{"type":"rule","strokeWidth":7,"opacity":0.45},
 "encoding":{"x":{"field":"h","type":"quantitative"},"x2":{"field":"h2"},"y":{"field":"v","type":"quantitative"},"y2":{"field":"v2"},
  "color":{"field":"k","type":"nominal","scale":{"domain":["g","p"],"range":["#4caf50","#f77b7b"]},"legend":null}}},
{"data":{"name":"rs"},"transform":[{"window":[{"op":"lead","field":"h","as":"h2"},{"op":"lead","field":"v","as":"v2"}],"sort":[{"field":"h","order":"ascending"}]},{"filter":"isValid(datum.h2)"}],
 "mark":{"type":"rule","strokeWidth":3,"strokeCap":"round"},
 "encoding":{"x":{"field":"h","type":"quantitative"},"x2":{"field":"h2"},"y":{"field":"v","type":"quantitative"},"y2":{"field":"v2"},
  "color":{"field":"c","type":"nominal","scale":{"domain":["r","c"],"range":["#ff4545","#3ef0f0"]},"legend":null}}},
{"data":{"name":"rm"},"mark":{"type":"text","font":"DejaVu Sans","fontSize":9,"fontWeight":"bold","text":"I","baseline":"middle"},
 "encoding":{"x":{"field":"h","type":"quantitative"},"y":{"field":"v","type":"quantitative"},
  "color":{"field":"k","type":"nominal","scale":{"domain":["g","r"],"range":["#138a13","#ff2020"]},"legend":null}}},
{"data":{"name":"rt"},"mark":{"type":"point","filled":true,"size":45,"opacity":1},
 "encoding":{"x":{"field":"h","type":"quantitative"},"y":{"field":"v","type":"quantitative"},
  "shape":{"field":"k","type":"nominal","scale":{"domain":["up","dn"],"range":["triangle-up","triangle-down"]},"legend":null},
  "color":{"field":"k","type":"nominal","scale":{"domain":["up","dn"],"range":["#0f7d0f","#e00000"]},"legend":null}}},
{"data":{"name":"lbl"},"mark":{"type":"text","align":"left","baseline":"alphabetic","font":"Open Sans","fontSize":11.5,"color":"#363a45","text":"wRSI_SR"},
 "encoding":{"x":{"field":"h","type":"quantitative"},"y":{"field":"rsi","type":"quantitative"}}}
]
},
{
"width":1190,"height":103,
"resolve":{"scale":{"color":"independent"}},
"layer":[
{"data":{"name":"ax"},"mark":{"type":"point","opacity":0},
 "encoding":{"x":{"field":"h","type":"quantitative","scale":{"domain":[-3.509,186.28],"nice":false,"zero":false},
   "axis":{"orient":"bottom","values":[0,24,48,72,96,120,144,168],"labelExpr":"datum.value==72||datum.value==168?'':''+(datum.value/24+21)","ticks":true,"tickSize":4,"tickColor":"#2a2e39","domain":true,"domainColor":"#2a2e39","grid":true,"gridColor":"#e3ebf3","labelPadding":6,"labelFlush":false,"title":null}},
  "y":{"field":"q","type":"quantitative","scale":{"domain":[-269.2,226],"nice":false,"zero":false},
   "axis":{"orient":"right","values":[-250,0],"format":".1f","grid":true,"gridColor":"#e6ecf3","tickSize":6,"tickColor":"#2a2e39","domainColor":"#2a2e39","labelPadding":4,"title":null}}}},
{"data":{"name":"cb"},"mark":{"type":"rect","color":"#f3ede3"},
 "encoding":{"x":{"field":"h","type":"quantitative"},"x2":{"field":"h2"},"y":{"field":"lo","type":"quantitative"},"y2":{"field":"hi"}}},
{"data":{"name":"zr"},"mark":{"type":"rule","color":"#b9b3a8","strokeWidth":1},
 "encoding":{"x":{"field":"h0","type":"quantitative"},"x2":{"field":"h1"},"y":{"field":"v","type":"quantitative"}}},
{"data":{"name":"cs"},"mark":{"type":"line","interpolate":"monotone","strokeWidth":2,"strokeJoin":"round"},
 "encoding":{"x":{"field":"h","type":"quantitative"},"y":{"field":"v","type":"quantitative"},"detail":{"field":"s"},
  "color":{"field":"s","type":"nominal","scale":{"domain":["dr","or"],"range":["#7a1515","#f57c00"]},"legend":null}}},
{"data":{"name":"cf"},"transform":[{"window":[{"op":"lead","field":"h","as":"h2"},{"op":"lead","field":"v","as":"v2"}],"sort":[{"field":"h","order":"ascending"}]},{"filter":"isValid(datum.h2)"}],
 "mark":{"type":"rule","strokeWidth":1.8,"strokeCap":"round"},
 "encoding":{"x":{"field":"h","type":"quantitative"},"x2":{"field":"h2"},"y":{"field":"v","type":"quantitative"},"y2":{"field":"v2"},
  "color":{"field":"c","type":"nominal","scale":{"domain":["g","r"],"range":["#1c8c1c","#ff1a1a"]},"legend":null}}},
{"data":{"name":"cm"},"mark":{"type":"text","font":"DejaVu Sans","fontSize":9,"fontWeight":"bold","text":"I","baseline":"middle"},
 "encoding":{"x":{"field":"h","type":"quantitative"},"y":{"field":"v","type":"quantitative"},
  "color":{"field":"k","type":"nominal","scale":{"domain":["g","r"],"range":["#138a13","#ff2020"]},"legend":null}}},
{"data":{"name":"lbl"},"mark":{"type":"text","align":"left","baseline":"alphabetic","font":"Open Sans","fontSize":11.5,"color":"#363a45","text":"CCI-RC"},
 "encoding":{"x":{"field":"h","type":"quantitative"},"y":{"field":"cci","type":"quantitative"}}},
{"data":{"name":"db"},"mark":{"type":"rect","color":"#4a86e8"},
 "encoding":{"x":{"field":"h","type":"quantitative"},"x2":{"field":"h2"},"y":{"field":"lo","type":"quantitative"},"y2":{"field":"hi"}}},
{"data":{"name":"db"},"mark":{"type":"text","color":"white","font":"DejaVu Sans","fontSize":16,"align":"center","baseline":"middle"},
 "encoding":{"x":{"field":"hc","type":"quantitative"},"y":{"field":"vc","type":"quantitative"},"text":{"field":"t"}}}
]
}
]
}
